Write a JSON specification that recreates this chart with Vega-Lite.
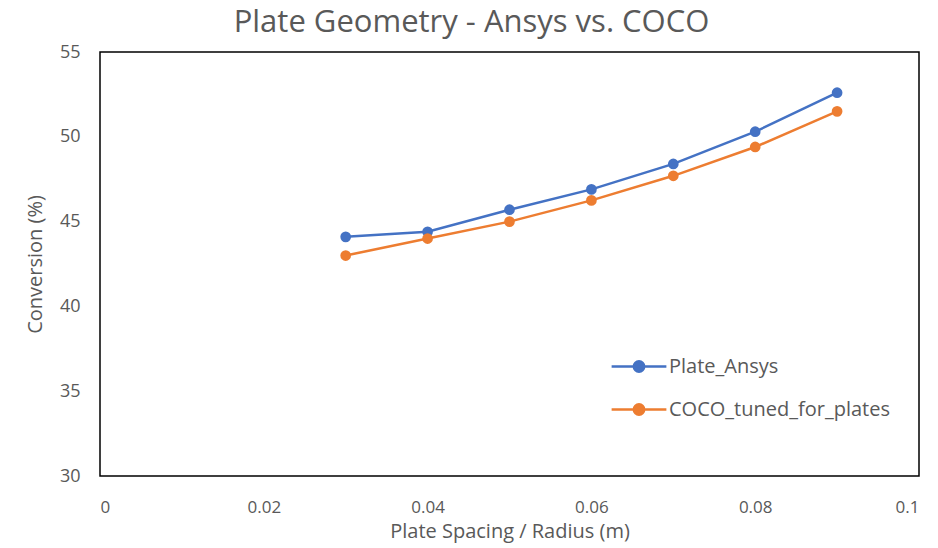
{
  "$schema": "https://vega.github.io/schema/vega-lite/v6.json",
  "width": 819,
  "height": 424,
  "autosize": {"type": "none"},
  "padding": {"left": 100, "top": 52, "right": 19, "bottom": 72},
  "background": "white",
  "title": {"text": "Plate Geometry - Ansys vs. COCO", "font": "Open Sans", "fontSize": 31, "fontWeight": "normal", "color": "#595959", "anchor": "middle", "offset": 4, "frame": "group", "dx": -38},
  "config": {
    "view": {"stroke": "#000000", "strokeWidth": 1.5},
    "axis": {"grid": false, "domain": false, "ticks": false, "labelFont": "Open Sans", "labelColor": "#595959", "labelFontSize": 17, "titleFont": "Open Sans", "titleColor": "#595959", "titleFontSize": 20, "titleFontWeight": "normal"}
  },
  "data": {"values": [
    {"x": 0.03, "y": 44.1, "s": "Plate_Ansys"},
    {"x": 0.04, "y": 44.4, "s": "Plate_Ansys"},
    {"x": 0.05, "y": 45.7, "s": "Plate_Ansys"},
    {"x": 0.06, "y": 46.9, "s": "Plate_Ansys"},
    {"x": 0.07, "y": 48.4, "s": "Plate_Ansys"},
    {"x": 0.08, "y": 50.3, "s": "Plate_Ansys"},
    {"x": 0.09, "y": 52.6, "s": "Plate_Ansys"},
    {"x": 0.03, "y": 43.0, "s": "COCO_tuned_for_plates"},
    {"x": 0.04, "y": 44.0, "s": "COCO_tuned_for_plates"},
    {"x": 0.05, "y": 45.0, "s": "COCO_tuned_for_plates"},
    {"x": 0.06, "y": 46.25, "s": "COCO_tuned_for_plates"},
    {"x": 0.07, "y": 47.7, "s": "COCO_tuned_for_plates"},
    {"x": 0.08, "y": 49.4, "s": "COCO_tuned_for_plates"},
    {"x": 0.09, "y": 51.5, "s": "COCO_tuned_for_plates"}
  ]},
  "encoding": {
    "x": {"field": "x", "type": "quantitative", "scale": {"domain": [0, 0.1], "nice": false}, "axis": {"values": [0, 0.02, 0.04, 0.06, 0.08, 0.1], "labelExpr": "datum.value == 0 ? '0' : format(datum.value, '.2~f')", "labelPadding": 23, "title": "Plate Spacing / Radius (m)", "titlePadding": 6}},
    "y": {"field": "y", "type": "quantitative", "scale": {"domain": [30, 55], "nice": false, "zero": false}, "axis": {"values": [30, 35, 40, 45, 50, 55], "labelFontSize": 18, "labelPadding": 20, "title": "Conversion (%)", "titlePadding": 14}},
    "color": {"field": "s", "type": "nominal", "sort": ["Plate_Ansys", "COCO_tuned_for_plates"], "scale": {"domain": ["Plate_Ansys", "COCO_tuned_for_plates"], "range": ["#4472C4", "#ED7D31"]},
      "legend": {"title": null, "orient": "none", "legendX": 510, "legendY": 302, "symbolType": "M-1,0L1,0M-0.19,0a0.19,0.19 0 1,0 0.38,0a0.19,0.19 0 1,0 -0.38,0", "symbolSize": 3000, "symbolStrokeWidth": 2.5, "labelFont": "Open Sans", "labelFontSize": 20, "labelColor": "#595959", "labelLimit": 400, "rowPadding": 18, "clipHeight": 25, "labelOffset": 1}}
  },
  "layer": [
    {"mark": {"type": "line", "strokeWidth": 2.5}},
    {"mark": {"type": "point", "filled": true, "size": 115, "opacity": 1}}
  ]
}
